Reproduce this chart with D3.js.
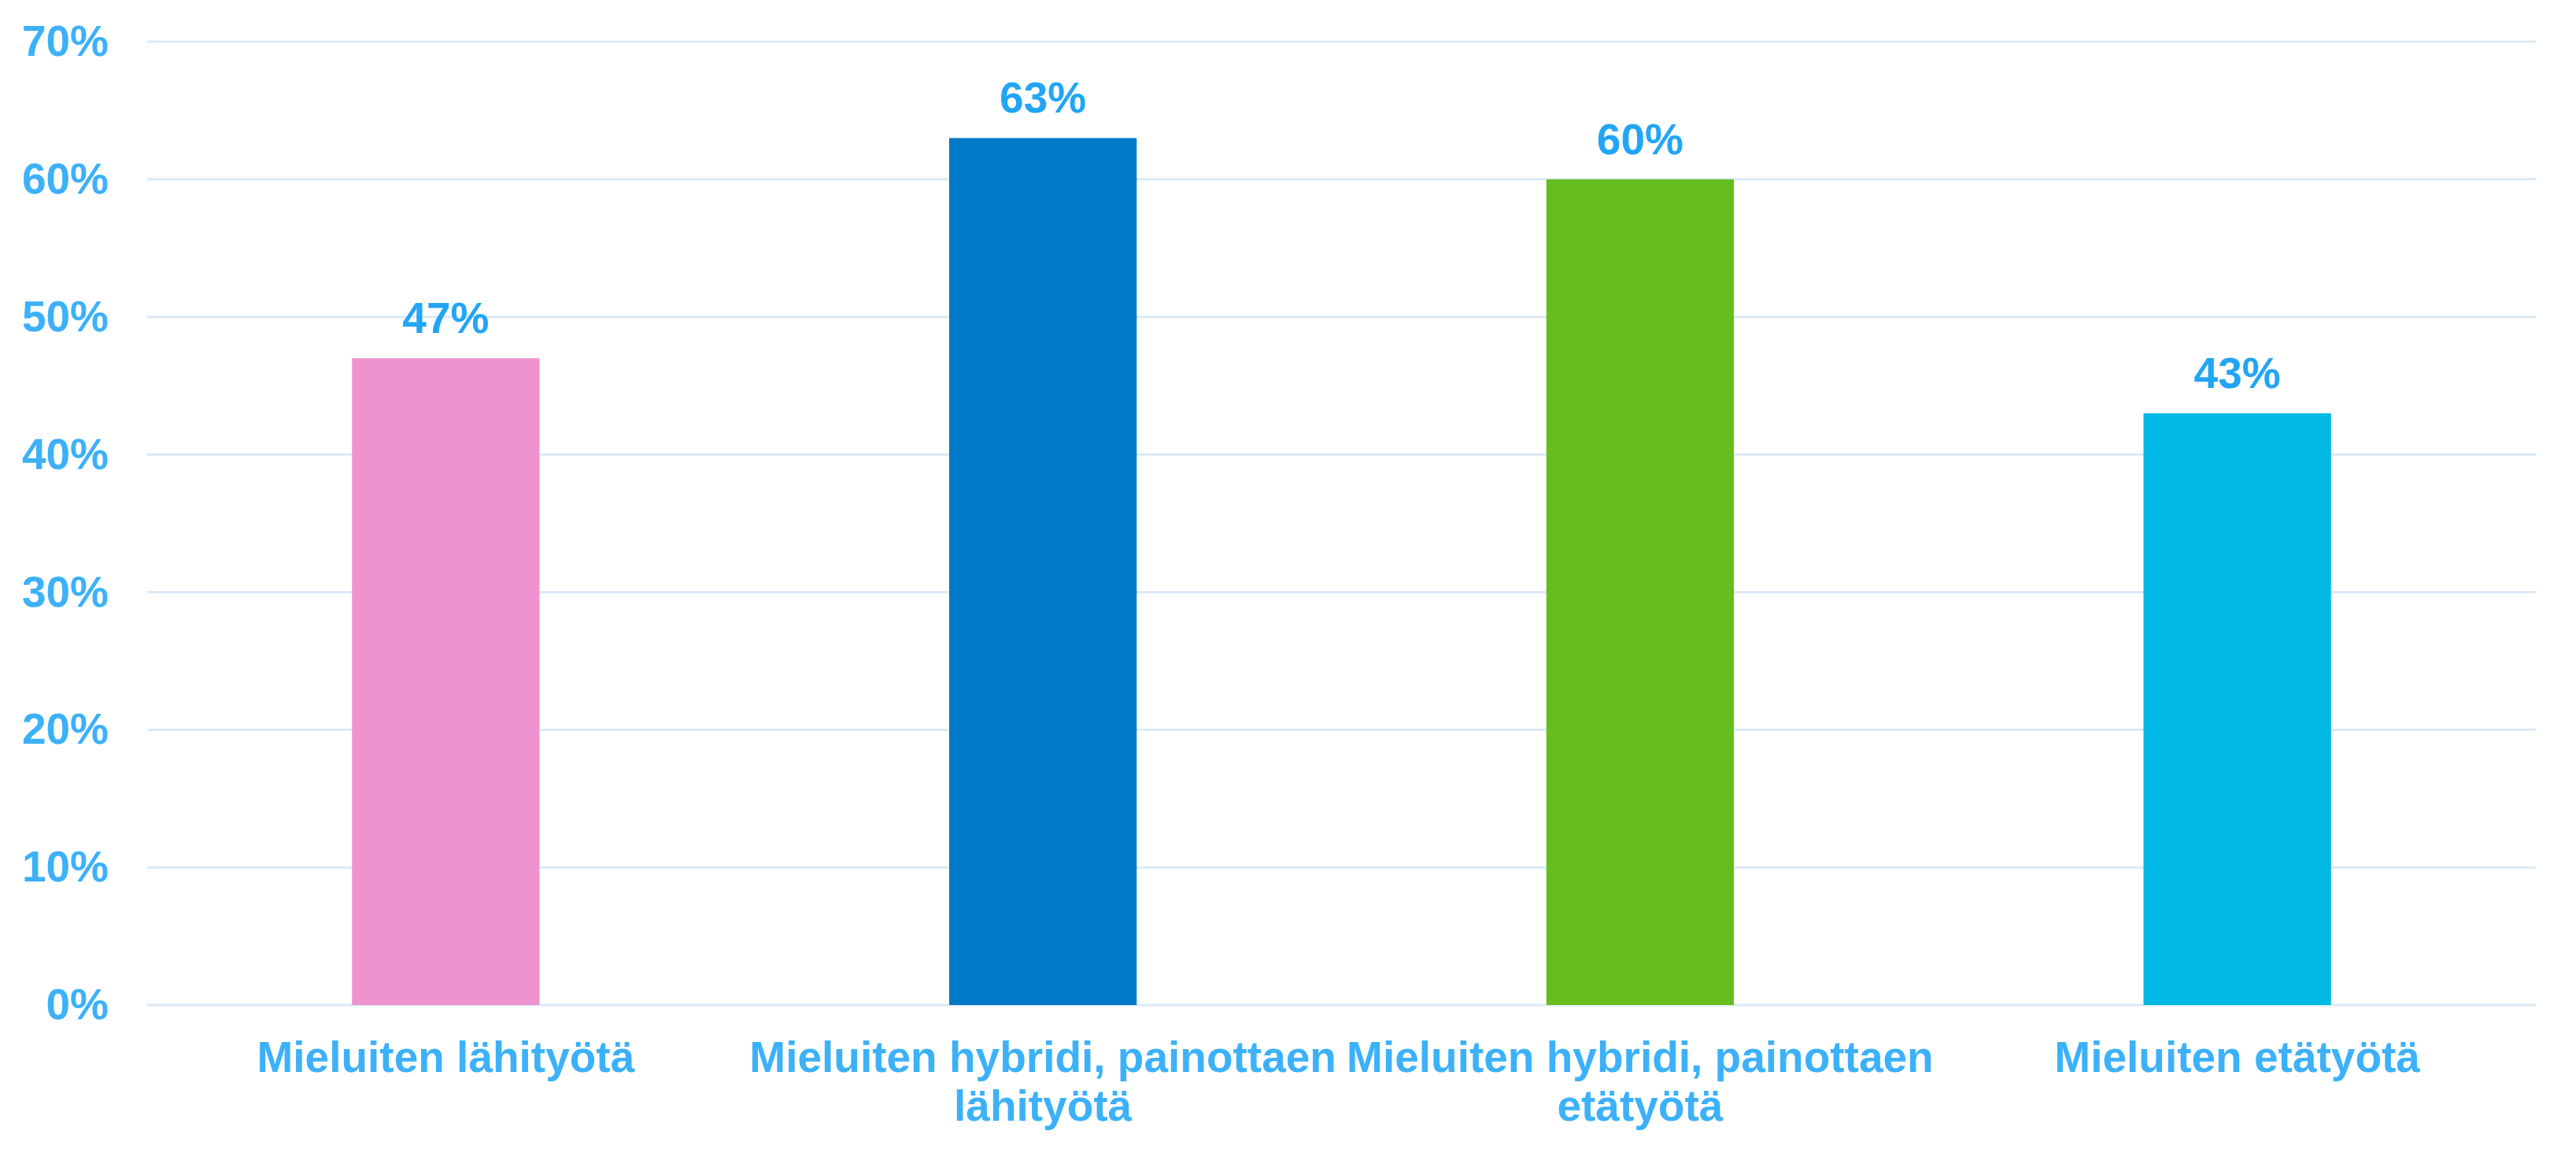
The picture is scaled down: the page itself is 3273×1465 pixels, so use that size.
<!DOCTYPE html>
<html>
<head>
<meta charset="utf-8">
<script src="https://cdn.jsdelivr.net/npm/d3@7"></script>
<style>
  body { margin: 0; background: #fff; }
  text { font-family: "Liberation Sans", Arial, sans-serif; font-weight: bold; }
</style>
</head>
<body>
<div class="bar-chart"></div>
<script>
var CATEGORIES = [
  'Mieluiten lähityötä',
  'Mieluiten hybridi, painottaen lähityötä',
  'Mieluiten hybridi, painottaen etätyötä',
  'Mieluiten etätyötä'
];

// how each category label breaks into lines
var CATEGORY_LINES = [
  ['Mieluiten lähityötä'],
  ['Mieluiten hybridi, painottaen', 'lähityötä'],
  ['Mieluiten hybridi, painottaen', 'etätyötä'],
  ['Mieluiten etätyötä']
];

var VALUES = [0.47, 0.63, 0.60, 0.43];

var BAR_COLORS = ['#EF93CE', '#0079C8', '#66BD1F', '#00B8E4'];

var Y_TICKS = [0, 0.1, 0.2, 0.3, 0.4, 0.5, 0.6, 0.7];

var W = 3273, H = 1465;
var margin = {top: 53, right: 51, bottom: 188, left: 187};
var width = W - margin.left - margin.right,
    height = H - margin.top - margin.bottom;

var svg = d3.select(".bar-chart").append("svg")
  .attr("width", W)
  .attr("height", H)
  .append("g")
  .attr("transform", "translate(" + margin.left + "," + margin.top + ")");

var x = d3.scaleBand()
  .domain(CATEGORIES)
  .range([0, width])
  .paddingInner(0.686)
  .paddingOuter(0.343);

var y = d3.scaleLinear().domain([0, 0.7]).range([height, 0]);

// gridlines
svg.selectAll(".grid")
  .data(Y_TICKS)
  .enter().append("line")
  .attr("class", "grid")
  .attr("x1", 0)
  .attr("x2", width)
  .attr("y1", function(d) { return y(d); })
  .attr("y2", function(d) { return y(d); })
  .style("stroke", "#DAEAF8")
  .style("stroke-width", 3);

// Y axis
var yAxis = d3.axisLeft(y)
  .tickValues(Y_TICKS)
  .tickFormat(d3.format(".0%"))
  .tickSize(0)
  .tickPadding(49);

svg.append("g")
  .attr("class", "y axis")
  .call(yAxis)
  .call(function(g) { g.select(".domain").remove(); })
  .selectAll("text")
  .style("font-size", "55px")
  .style("fill", "#3CB1F9");

// bars
svg.selectAll(".bar")
  .data(VALUES)
  .enter().append("rect")
  .attr("class", "bar")
  .attr("x", function(d, i) { return x(CATEGORIES[i]); })
  .attr("width", x.bandwidth())
  .attr("y", function(d) { return y(d); })
  .attr("height", function(d) { return height - y(d); })
  .style("fill", function(d, i) { return BAR_COLORS[i]; });

// value labels
svg.selectAll(".value")
  .data(VALUES)
  .enter().append("text")
  .attr("class", "value")
  .attr("x", function(d, i) { return x(CATEGORIES[i]) + x.bandwidth() / 2; })
  .attr("y", function(d) { return y(d) - 32; })
  .style("text-anchor", "middle")
  .style("font-size", "55px")
  .style("fill", "#22A5F5")
  .text(d3.format(".0%"));

// X axis
var xAxis = d3.axisBottom(x).tickSize(0).tickFormat("");

var xg = svg.append("g")
  .attr("class", "x axis")
  .attr("transform", "translate(0," + height + ")")
  .call(xAxis);
xg.select(".domain").remove();

xg.selectAll(".tick").each(function(d, i) {
  var t = d3.select(this).append("text")
    .attr("y", 85)
    .style("text-anchor", "middle")
    .style("font-size", "55px")
    .style("fill", "#3CB1F9");
  CATEGORY_LINES[i].forEach(function(line, k) {
    t.append("tspan")
      .attr("x", 0)
      .attr("dy", k === 0 ? 0 : 62)
      .text(line);
  });
});
</script>
</body>
</html>
